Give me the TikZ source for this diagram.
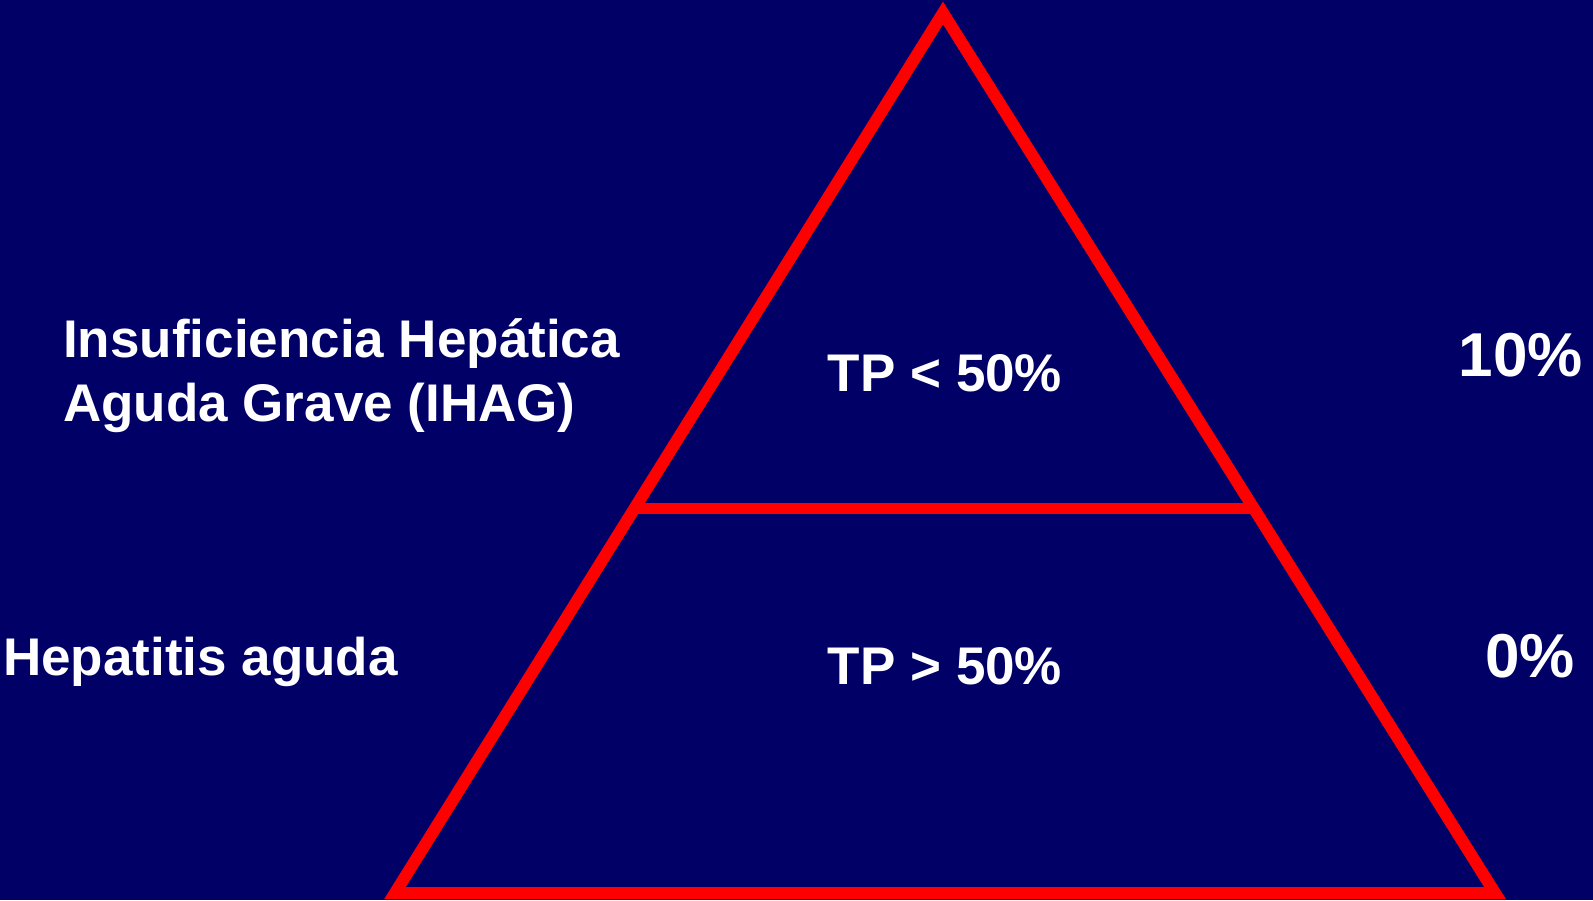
\documentclass[tikz,border=0pt]{standalone}
\usepackage{fontspec}
\setmainfont{Liberation Sans}
\usetikzlibrary{calc}

\definecolor{slidebg}{RGB}{0,0,102}
\definecolor{pyrred}{RGB}{255,0,0}
\tikzset{
 label/.style={text=white,inner sep=0pt,font=\bfseries\fontsize{53}{64}\selectfont},
 pct/.style={text=white,inner sep=0pt,font=\bfseries\fontsize{62}{72}\selectfont}
}

\begin{document}
\begin{tikzpicture}[x=1pt,y=-1pt]
 \fill[slidebg] (0,0) rectangle (1593,900);
 \useasboundingbox (0,0) rectangle (1593,900);
 \coordinate (top) at (943,13);
 \coordinate (bl) at (395,893);
 \coordinate (br) at (1495,893);
 \draw[pyrred,line width=12pt,miter limit=10] (top) -- (bl) -- (br) -- cycle;
 \draw[pyrred,line width=11pt] ($(top)!0.5625!(bl)$) -- ($(top)!0.5625!(br)$);
 \node[label,align=left,anchor=base west] (ihag) at (63,421) {Insuficiencia Hepática\\Aguda Grave (IHAG)};
 \node[label,anchor=base west] (hep) at (3,675) {Hepatitis aguda};
 \node[label,anchor=base] (tplow) at (945,391) {TP < 50\%};
 \node[label,anchor=base] (tphigh) at (945,684) {TP > 50\%};
 \node[pct,anchor=base] (ten) at (1521,376) {10\%};
 \node[pct,anchor=base] (zero) at (1530,677) {0\%};
\end{tikzpicture}
\end{document}
